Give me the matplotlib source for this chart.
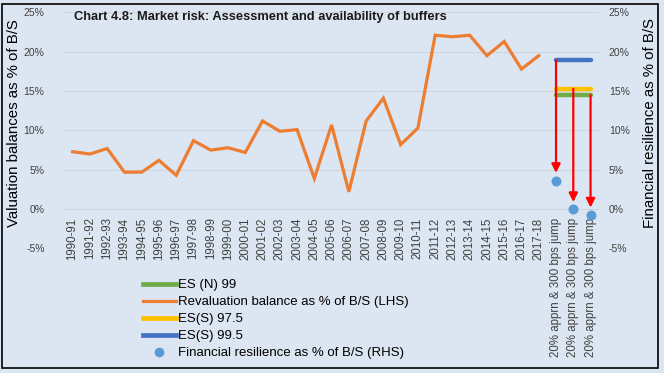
import numpy as np
import matplotlib
matplotlib.use("Agg")
import matplotlib.pyplot as plt
from matplotlib.lines import Line2D
from matplotlib.patches import Rectangle

plt.rcParams['font.family'] = ['Liberation Sans', 'DejaVu Sans']

# ---- data ----
years = ["1990-91", "1991-92", "1992-93", "1993-94", "1994-95", "1995-96", "1996-97",
         "1997-98", "1998-99", "1999-00", "2000-01", "2001-02", "2002-03", "2003-04",
         "2004-05", "2005-06", "2006-07", "2007-08", "2008-09", "2009-10", "2010-11",
         "2011-12", "2012-13", "2013-14", "2014-15", "2015-16", "2016-17", "2017-18"]
scenarios = ["20% apprn & 300 bps jump"] * 3
reval = [7.3, 7.0, 7.7, 4.7, 4.7, 6.2, 4.3, 8.7, 7.5, 7.8, 7.2, 11.2, 9.9, 10.1,
         3.9, 10.7, 2.2, 11.2, 14.1, 8.2, 10.3, 22.1, 21.9, 22.1, 19.5, 21.3, 17.8, 19.5]
es_n_99 = 14.5
es_s_975 = 15.3
es_s_995 = 18.9
resilience = [3.6, 0.0, -0.7]
arrow_from = [18.9, 15.3, 14.5]
arrow_to = [4.6, 0.9, 0.2]

labels = years + scenarios
n = len(labels)
x_years = np.arange(len(years))
x_scen = np.arange(len(years), n)

BG = "#DCE6F2"
ORANGE = "#ED7D31"
GREEN = "#70AD47"
YELLOW = "#FFC000"
BLUE = "#4472C4"
DOT = "#5B9BD5"
TXT = "#404040"

fig = plt.figure(figsize=(6.64, 3.73), dpi=100)
fig.patch.set_facecolor(BG)
ax = fig.add_axes([0.0964, 0.3338, 0.806, 0.633])
ax.set_facecolor(BG)

ax.plot(x_years, reval, color=ORANGE, lw=2.3, solid_joinstyle='miter')
ax.plot([x_scen[0], x_scen[-1]], [es_n_99] * 2, color=GREEN, lw=3.2, solid_capstyle='round')
ax.plot([x_scen[0], x_scen[-1]], [es_s_975] * 2, color=YELLOW, lw=3.2, solid_capstyle='round')
ax.plot([x_scen[0], x_scen[-1]], [es_s_995] * 2, color=BLUE, lw=3.2, solid_capstyle='round')

for xi, y0, y1 in zip(x_scen, arrow_from, arrow_to):
    ax.annotate("", xy=(xi, y1), xytext=(xi, y0),
                arrowprops=dict(arrowstyle='-|>', color='red', lw=1.6,
                                mutation_scale=13, shrinkA=0, shrinkB=0))

ax.set_xlim(-0.5, n - 0.5)
ax.set_ylim(-5, 25)
ax.set_yticks(np.arange(-5, 26, 5))
ax.set_yticklabels([f"{v}%" for v in range(-5, 26, 5)])
ax.grid(axis='y', color='#CDD5DF', lw=0.8)
ax.set_axisbelow(True)
for s in ax.spines.values():
    s.set_visible(False)
ax.spines['bottom'].set_position(('data', 0))
ax.set_xticks(np.arange(n))
ax.set_xticklabels(labels, rotation=90, fontsize=8.3, color=TXT)
ax.tick_params(axis='x', length=0, pad=6)
ax.tick_params(axis='y', length=0, pad=14, labelsize=7.5, labelcolor=TXT)
ax.set_ylabel("Valuation balances as % of B/S", fontsize=10.8)
ax.yaxis.set_label_coords(-0.08, 0.531)

ax2 = ax.twinx()
ax2.set_ylim(-5, 25)
ax2.set_yticks(np.arange(-5, 26, 5))
ax2.set_yticklabels([f"{v}%" for v in range(-5, 26, 5)])
ax2.tick_params(axis='y', length=0, pad=7, labelsize=7.5, labelcolor=TXT)
for s in ax2.spines.values():
    s.set_visible(False)
ax2.scatter(x_scen, resilience, s=38, color=DOT, zorder=5)
ax2.set_ylabel("Financial resilience as % of B/S", fontsize=10.8)
ax2.yaxis.set_label_coords(1.082, 0.531)

handles = [
    Line2D([], [], color=GREEN, lw=3.4),
    Line2D([], [], color=ORANGE, lw=2.3),
    Line2D([], [], color=YELLOW, lw=3.4),
    Line2D([], [], color=BLUE, lw=3.4),
    Line2D([], [], color=DOT, lw=0, marker='o', markersize=6),
]
names = ["ES (N) 99", "Revaluation balance as % of B/S (LHS)", "ES(S) 97.5",
         "ES(S) 99.5", "Financial resilience as % of B/S (RHS)"]
fig.legend(handles, names, loc='upper left', bbox_to_anchor=(139 / 664, 1 - 275 / 373),
           frameon=False, fontsize=9.5, handlelength=2.5, handletextpad=0.15,
           labelspacing=0.36, borderaxespad=0, borderpad=0.3)

fig.text(260 / 664, 1 - 17 / 373, "Chart 4.8: Market risk: Assessment and availability of buffers",
         ha='center', va='center', fontsize=9.3, fontweight='bold', color='#1a1a1a')

fig.patches.append(Rectangle((2 / 664, 1 - 368 / 373), 656 / 664, 364 / 373,
                             transform=fig.transFigure, fill=False, ec='black', lw=1.2))

fig.savefig("out.png", dpi=100, facecolor=BG)
